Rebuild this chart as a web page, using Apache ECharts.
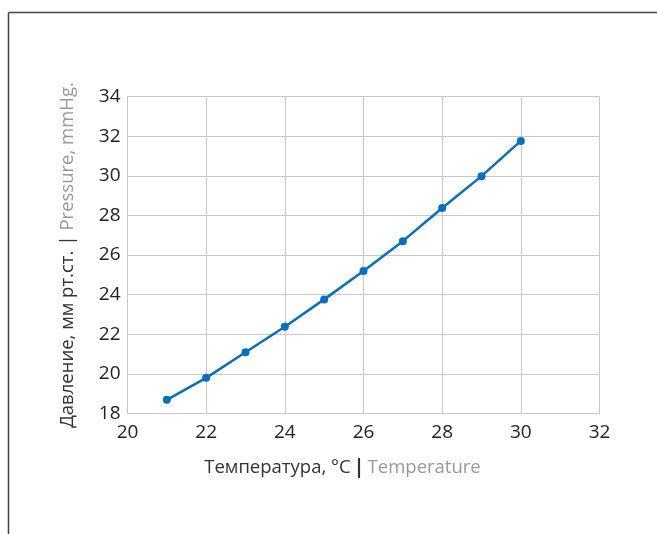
<!DOCTYPE html>
<html><head><meta charset="utf-8">
<script src="https://cdn.jsdelivr.net/npm/echarts@6/dist/echarts.min.js"></script>
<style>html,body{margin:0;padding:0;background:#fff}#c{width:657px;height:534px}</style>
</head><body><div id="c"></div>
<script>
const temperatures = [21, 22, 23, 24, 25, 26, 27, 28, 29, 30];
const pressures = [18.69, 19.80, 21.09, 22.38, 23.76, 25.19, 26.70, 28.37, 29.98, 31.76];
const xTitleRu = 'Температура, °C';
const xTitleEn = 'Temperature';
const yTitleRu = 'Давление, мм рт.ст.';
const yTitleEn = 'Pressure, mmHg.';

const chart = echarts.init(document.getElementById('c'), null, {renderer: 'canvas'});
const font = '"Open Sans", "Noto Sans", sans-serif';
const richX = {
  a: {color: '#333', fontSize: 18.5, fontFamily: font},
  s: {color: '#333', fontSize: 20, fontFamily: font, fontWeight: 'bold', padding: [0, 3, 0, 3]},
  b: {color: '#999', fontSize: 18.5, fontFamily: font}
};
const richY = {
  a: {color: '#333', fontSize: 18.5, fontFamily: font},
  s: {color: '#333', fontSize: 19, fontFamily: font},
  b: {color: '#999', fontSize: 18.5, fontFamily: font}
};
chart.setOption({
  animation: false,
  grid: {left: 127.5, right: 57.5, top: 96.5, bottom: 120.5, containLabel: false},
  graphic: [
    {type: 'line', shape: {x1: 8.5, y1: 12.5, x2: 8.5, y2: 534}, style: {stroke: '#444', lineWidth: 1.5}},
    {type: 'line', shape: {x1: 8.5, y1: 12.5, x2: 657, y2: 12.5}, style: {stroke: '#444', lineWidth: 1.5}}
  ],
  xAxis: {
    type: 'value', min: 20, max: 32, interval: 2,
    axisLine: {show: true, lineStyle: {color: '#c8c8cc', width: 1}},
    axisTick: {show: false},
    splitLine: {show: true, lineStyle: {color: '#c8c8cc', width: 1}},
    axisLabel: {color: '#222', fontSize: 19, fontFamily: font, margin: 10},
    name: '{a|' + xTitleRu + '}{s||}{b|' + xTitleEn + '}',
    nameLocation: 'middle', nameGap: 44,
    nameTextStyle: {padding: [0, 42, 0, 0], rich: richX}
  },
  yAxis: {
    type: 'value', min: 18, max: 34, interval: 2,
    axisLine: {show: true, lineStyle: {color: '#c8c8cc', width: 1}},
    axisTick: {show: false},
    splitLine: {show: true, lineStyle: {color: '#c8c8cc', width: 1}},
    axisLabel: {color: '#222', fontSize: 19, fontFamily: font, margin: 7},
    name: '{a|' + yTitleRu + ' }{s||}{b| ' + yTitleEn + '}',
    nameLocation: 'middle', nameGap: 50, nameRotate: 90,
    nameTextStyle: {rich: richY}
  },
  series: [{
    type: 'line',
    data: temperatures.map((t, i) => [t, pressures[i]]),
    symbol: 'circle', symbolSize: 8,
    lineStyle: {color: '#0a6fba', width: 2.5},
    itemStyle: {color: '#0a6fba'}
  }]
});
</script></body></html>
